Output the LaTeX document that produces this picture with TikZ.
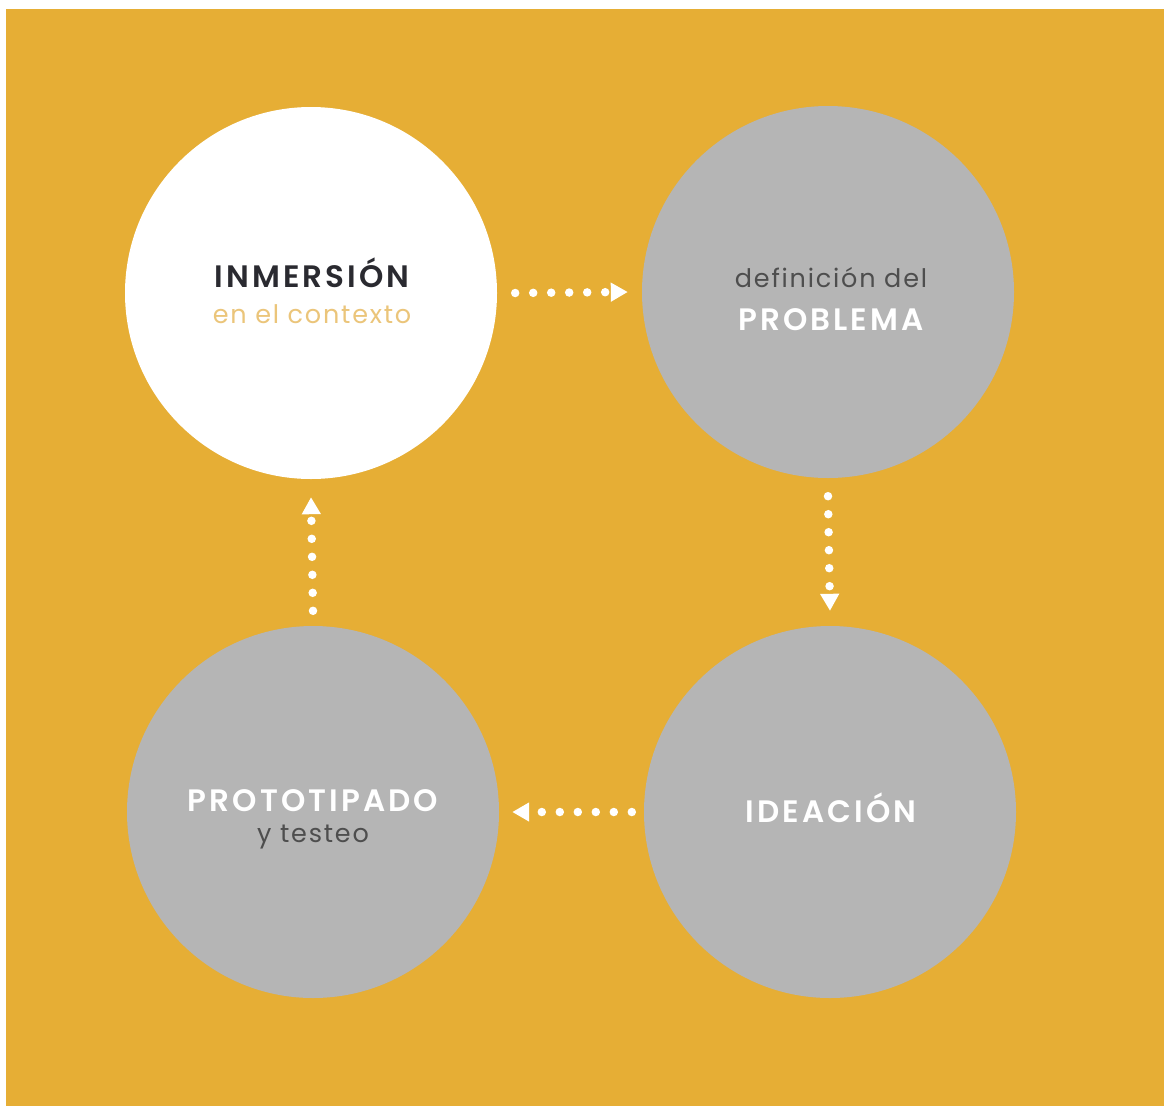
\documentclass[tikz,border=0pt]{standalone}
\usepackage{fontspec}
\setmainfont{Poppins}[BoldFont={Poppins SemiBold}]
\usetikzlibrary{arrows.meta}
\definecolor{bgor}{HTML}{E6AE35}
\definecolor{circgray}{HTML}{B5B5B5}
\definecolor{darktxt}{HTML}{2A2A30}
\definecolor{graytxt}{HTML}{4E4E4E}
\definecolor{lightor}{HTML}{EBC57A}
\newfontfamily\titlefont{Poppins SemiBold}[LetterSpace=10]
\newfontfamily\subfont{Poppins}[LetterSpace=7]
\tikzset{
  stage/.style={circle, minimum size=372pt, inner sep=0pt, draw=none},
  dotarrow/.style={white, line width=8.5pt, line cap=round, dash pattern=on 0pt off 18pt,
    -{Triangle[length=17pt,width=18pt,line cap=butt,sep=0pt]}},
  title/.style={font=\titlefont\fontsize{31}{33}\selectfont, anchor=base},
  sub/.style={font=\subfont\fontsize{25.5}{28}\selectfont, anchor=base},
}
\begin{document}
\begin{tikzpicture}[x=1pt,y=-1pt]
\useasboundingbox (0,0) rectangle (1164,1106);
\fill[bgor] (6,9) rectangle (1164,1106);
\node[stage, fill=white] (a) at (311,293) {};
\node[stage, fill=circgray] (b) at (828,292) {};
\node[stage, fill=circgray] (c) at (830,812) {};
\node[stage, fill=circgray] (d) at (313,812) {};
% texts
\node[title, text=darktxt] (ta) at (312,287) {INMERSIÓN};
\node[sub, text=lightor] (sa) at (312,323) {en el contexto};
\node[sub, text=graytxt] (sb) at (831,287) {definición del};
\node[title, text=white] (tb) at (831,330) {PROBLEMA};
\node[title, text=white] (tc) at (831,822) {IDEACIÓN};
\node[title, text=white] (td) at (313,811) {PROTOTIPADO};
\node[sub, text=graytxt] (sd) at (313,842) {y testeo};
% arrows
\draw[dotarrow] ([xshift=18pt]a.east) -- ([xshift=-14pt]b.west);
\draw[dotarrow] ([yshift=-18pt]b.south) -- ([yshift=15pt]c.north);
\draw[dotarrow] ([xshift=-12pt]c.west) -- ([xshift=13pt]d.east);
\draw[dotarrow] ([yshift=15pt]d.north) -- ([yshift=-18pt]a.south);
\end{tikzpicture}
\end{document}
